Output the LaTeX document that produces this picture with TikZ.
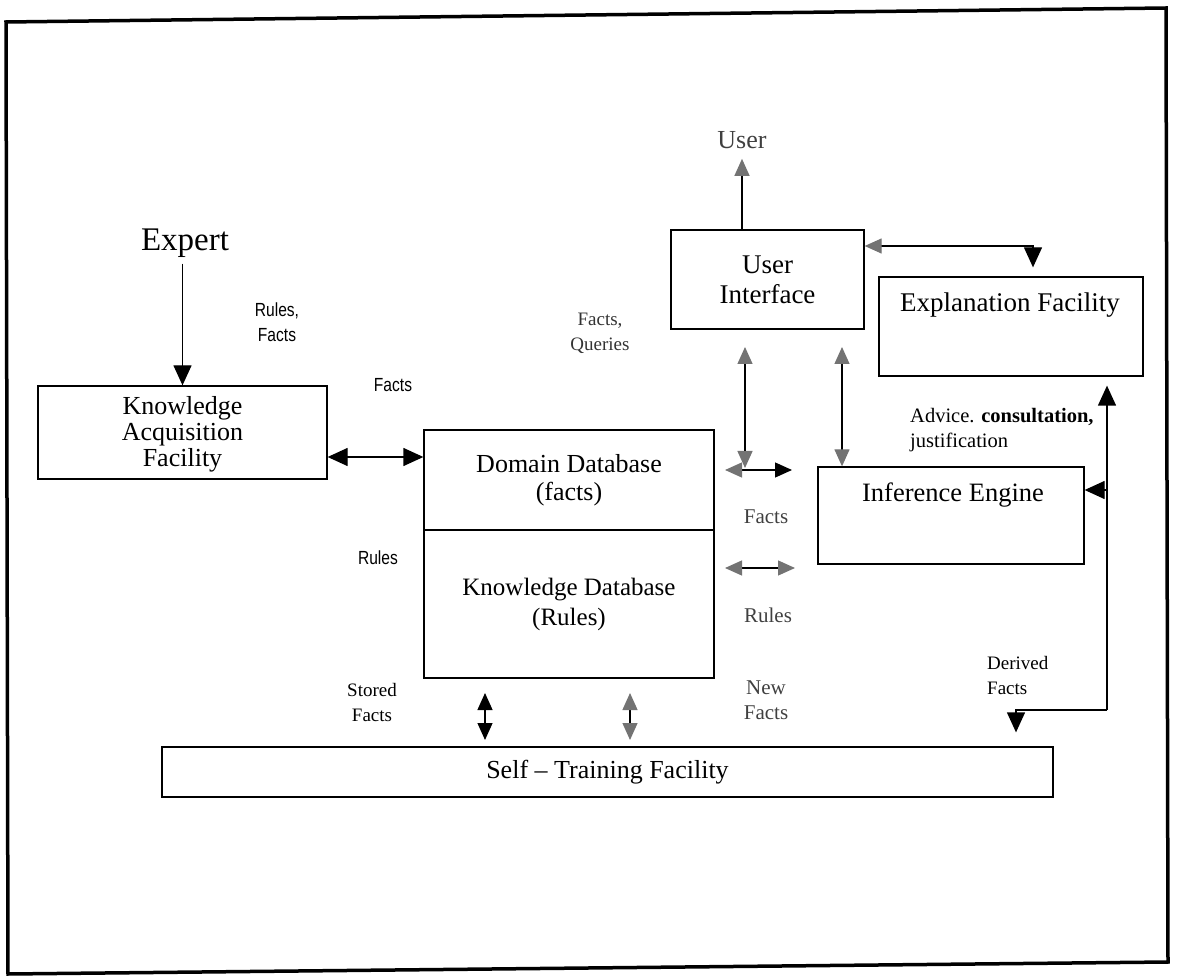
\documentclass[tikz,border=0pt]{standalone}
\usepackage{fontspec}
\setmainfont{Liberation Serif}
\newfontfamily\narrowsans[FakeStretch=0.82]{Liberation Sans}
\usetikzlibrary{arrows.meta}
\begin{document}
\begin{tikzpicture}[x=1pt,y=-1pt,
  box/.style={draw,line width=1.3pt,inner sep=0pt},
  lbl/.style={font=\fontsize{19}{25}\selectfont,align=center,inner sep=0pt},
  slbl/.style={font=\narrowsans\fontsize{19}{25}\selectfont,align=center,inner sep=0pt},
  glbl/.style={font=\fontsize{21}{25}\selectfont,align=center,inner sep=0pt,text=black!75},
  con/.style={line width=1.3pt},
  bt/.tip={Triangle[length=20pt,width=18pt]},
  gt/.tip={Triangle[length=17pt,width=15pt,fill=black!55,color=black!55]},
  kt/.tip={Triangle[length=17pt,width=15pt]}
]
\useasboundingbox (0,0) rectangle (1179,976);
% outer frame
\draw[line width=3.5pt] (6,22) -- (1166,8) -- (1168,962) -- (8,974) -- cycle;

% boxes
\node[box,minimum width=289pt,minimum height=93pt] (kaf) at (182.5,432.5) {};
\node[inner sep=0pt,align=center,font=\fontsize{26}{26}\selectfont] (kaft) at (182.5,434)
  {Knowledge\\Acquisition\\Facility};
\node[box,minimum width=290pt,minimum height=100pt,align=center,
  font=\fontsize{26}{28}\selectfont] (dbf) at (569,480)
  {Domain Database\\(facts)};
\node[box,minimum width=290pt,minimum height=148pt,align=center,
  font=\fontsize{25}{30}\selectfont] (dbk) at (569,604)
  {Knowledge Database\\(Rules)};
\node[box,minimum width=193pt,minimum height=99pt,align=center,
  font=\fontsize{27}{30}\selectfont] (ui) at (767.5,279.5)
  {User\\Interface};
\node[box,minimum width=264pt,minimum height=99pt] (ef) at (1011,326.5) {};
\node[inner sep=0pt,font=\fontsize{27}{30}\selectfont] (eft) at (1010,305) {Explanation Facility};
\node[box,minimum width=266pt,minimum height=97pt] (ie) at (951,515.5) {};
\node[inner sep=0pt,font=\fontsize{26.5}{30}\selectfont] (iet) at (953,495) {Inference Engine};
\node[box,minimum width=891pt,minimum height=50pt,
  font=\fontsize{26}{28}\selectfont] (stf) at (607.5,772) {Self -- Training Facility};

% free texts
\node[inner sep=0pt,font=\fontsize{33}{36}\selectfont] (expert) at (185,243) {Expert};
\node[inner sep=0pt,font=\fontsize{26}{30}\selectfont,text=black!75] (user) at (742,140) {User};
\node[slbl] (rf) at (277,322) {Rules,\\Facts};
\node[slbl] (fa) at (393,385) {Facts};
\node[slbl] (rl) at (378,558) {Rules};
\node[lbl,text=black!80] (fq) at (600,333) {Facts,\\Queries};
\node[glbl] (fr) at (766,517) {Facts};
\node[glbl] (rr) at (768,615) {Rules};
\node[glbl] (nf) at (766,700) {New\\Facts};
\node[lbl] (sf) at (372,702) {Stored\\Facts};
\node[font=\fontsize{20.5}{25}\selectfont,inner sep=0pt,align=left,anchor=west] (adv) at (910,430) {Advice. \textbf{consultation,}\\justification};
\node[lbl,align=left,anchor=west] (der) at (987,675) {Derived\\Facts};

% coordinates for free connector ends
\coordinate (ya) at (0,457);
\coordinate (c1) at (1033,246);
\coordinate (va1) at (745,347);
\coordinate (va2) at (745,468);
\coordinate (fa1) at (725,470);
\coordinate (fa2) at (792,470);
\coordinate (vb1) at (842,347);
\coordinate (ra1) at (725,568);
\coordinate (ra2) at (795,568);
\coordinate (sa1) at (485,693);
\coordinate (sa2) at (485,740);
\coordinate (sb1) at (630,693);
\coordinate (sb2) at (630,740);
\coordinate (r1) at (1107,710);
\coordinate (r2) at (1107,490);
\coordinate (r3) at (1016,710);

% connectors
\draw[con,-{bt}] ([yshift=-6pt]kaf.north |- expert.south) -- (kaf.north);
\draw[con,{bt}-{bt}] (kaf.east |- ya) -- (dbf.west |- ya);
\draw[con,-{gt}] (ui.north -| user) -- ([yshift=-10pt]user.south);
\draw[con,{gt}-{bt}] (ui.east |- c1) -- (c1) -- ([yshift=9pt]c1 |- ef.north);
\draw[con,{gt}-{gt}] (va1) -- (va2);
\draw[con,{gt}-{kt}] (fa1) -- (fa2);
\draw[con,{gt}-{gt}] (vb1) -- (vb1 |- ie.north);
\draw[con,{gt}-{gt}] (ra1) -- (ra2);
\draw[con,{kt}-{kt}] (sa1) -- (sa2);
\draw[con,{gt}-{gt}] (sb1) -- (sb2);
\draw[con,-{bt}] (r1) -- ([yshift=-9pt]r1 |- ef.south);
\draw[con,-{bt}] (r2) -- (ie.east |- r2);
\draw[con,-{bt}] (r1) -- (r3) -- ([yshift=14pt]r3 |- stf.north);
\end{tikzpicture}
\end{document}
